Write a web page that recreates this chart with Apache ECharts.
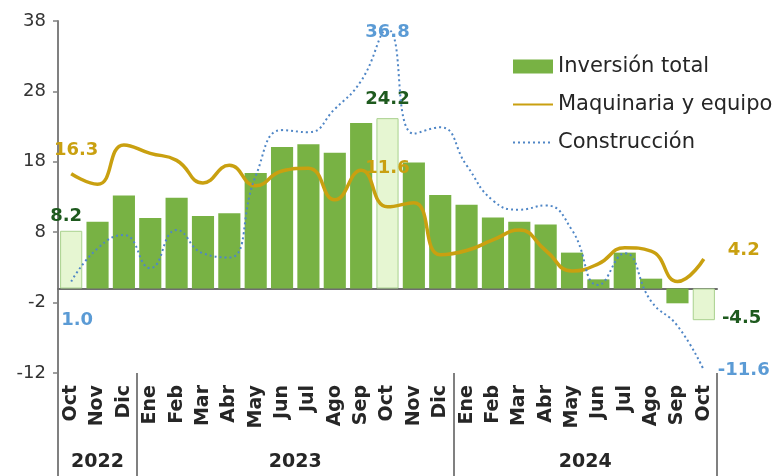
<!DOCTYPE html>
<html>
<head>
<meta charset="utf-8">
<script src="https://cdn.jsdelivr.net/npm/echarts@6/dist/echarts.min.js"></script>
<style>
  html, body { margin: 0; padding: 0; background: #fff; }
  #chart { width: 782px; height: 476px; }
</style>
</head>
<body>
<div id="chart"></div>
<script>
// months Oct 2022 .. Oct 2024
const months = ['Oct', 'Nov', 'Dic',
  'Ene', 'Feb', 'Mar', 'Abr', 'May', 'Jun', 'Jul', 'Ago', 'Sep', 'Oct', 'Nov', 'Dic',
  'Ene', 'Feb', 'Mar', 'Abr', 'May', 'Jun', 'Jul', 'Ago', 'Sep', 'Oct'];
const years = ['2022', '2023', '2024'];
const monthsPerYear = [3, 12, 10];

const inversionTotal = [8.2, 9.5, 13.2, 10.0, 12.9, 10.3, 10.7, 16.4, 20.1, 20.5, 19.3, 23.5, 24.2,
  17.9, 13.3, 11.9, 10.1, 9.5, 9.1, 5.1, 1.3, 5.1, 1.4, -2.1, -4.5];
const maquinaria = [16.3, 14.8, 20.4, 19.2, 18.2, 15.0, 17.5, 14.6, 16.7, 17.1, 12.6, 16.8, 11.6,
  12.2, 4.8, 5.4, 6.9, 8.3, 5.4, 2.5, 3.5, 5.8, 5.3, 1.0, 4.2];
const construccion = [1.0, 5.7, 7.6, 2.9, 8.3, 5.0, 4.4, 16.0, 22.5, 22.2, 25.5, 29.5, 36.8,
  22.0, 22.9, 17.5, 12.5, 11.2, 11.8, 8.3, 0.5, 5.0, -1.8, -5.3, -11.6];

const yMin = -12, yMax = 38, yStep = 10;
const labelled = [0, 12, 24];

const FONT = '"DejaVu Sans", sans-serif';
const GREEN = '#78b244';
const LIGHT = '#e6f6d2';
const LIGHT_BORDER = '#a9d18e';
const DARK_GREEN = '#1e5a1e';
const GOLD = '#c9a010';
const BLUE = '#5b9bd5';
const AXIS = '#808080';

// year boundaries (in category units)
const starts = [];
let acc = 0;
monthsPerYear.forEach(n => { starts.push(acc); acc += n; });
const yearCenters = monthsPerYear.map((n, i) => starts[i] + n / 2);

const barLabels = {
  0: { position: 'top', offset: [-5, 0] },
  12: { position: 'top', distance: 10 },
  24: { position: 'right', distance: 7, offset: [0, 14] }
};
const goldLabels = {
  0: { position: 'top', distance: 14, offset: [5, 0] },
  12: { position: 'top', distance: 30 },
  24: { position: 'right', distance: 24, offset: [0, -9] }
};
const blueLabels = {
  0: { position: 'bottom', distance: 30, offset: [6, 0] },
  12: { position: 'top', distance: -12 },
  24: { position: 'right', distance: 14 }
};

const valueLabel = (color) => ({
  show: true,
  color: color,
  fontFamily: FONT,
  fontWeight: 'bold',
  fontSize: 18,
  formatter: p => p.value.toFixed(1)
});

const chart = echarts.init(document.getElementById('chart'));

const option = {
  animation: false,
  textStyle: { fontFamily: FONT },
  grid: { left: 58, right: 65, top: 21, bottom: 103 },
  legend: {
    orient: 'vertical',
    left: 512,
    top: 56,
    padding: 0,
    itemWidth: 40,
    itemHeight: 14,
    itemGap: 17,
    textStyle: { fontSize: 21, color: '#262626', fontFamily: FONT },
    data: [
      { name: 'Inversión total', icon: 'rect' },
      { name: 'Maquinaria y equipo', itemStyle: { opacity: 0 } },
      { name: 'Construcción', itemStyle: { opacity: 0 } }
    ]
  },
  xAxis: [
    {
      // zero line
      type: 'category',
      data: months,
      axisLine: { onZero: true, lineStyle: { color: '#6e6e6e', width: 2 } },
      axisTick: { show: false },
      axisLabel: { show: false }
    },
    {
      // month labels + year separators
      type: 'category',
      data: months,
      position: 'bottom',
      axisLine: { show: false, onZero: false },
      axisTick: {
        show: true,
        length: 103,
        interval: (i) => starts.includes(i),
        lineStyle: { color: AXIS, width: 2 }
      },
      axisLabel: {
        interval: 0,
        rotate: 90,
        margin: 12,
        fontSize: 19,
        fontWeight: 'bold',
        color: '#262626',
        fontFamily: FONT
      }
    },
    {
      // year labels
      type: 'value',
      min: 0,
      max: months.length,
      interval: 0.5,
      position: 'bottom',
      axisLine: { show: false, onZero: false },
      axisTick: { show: false },
      splitLine: { show: false },
      axisLabel: {
        margin: 80,
        fontSize: 19,
        fontWeight: 'bold',
        color: '#262626',
        fontFamily: FONT,
        formatter: (v) => {
          const k = yearCenters.findIndex(c => Math.abs(c - v) < 1e-6);
          return k >= 0 ? years[k] : '';
        }
      }
    }
  ],
  yAxis: {
    type: 'value',
    min: yMin,
    max: yMax,
    interval: yStep,
    axisLine: { show: true, lineStyle: { color: AXIS, width: 2 } },
    axisTick: { show: true, length: 5, lineStyle: { color: AXIS, width: 1.5 } },
    splitLine: { show: false },
    axisLabel: { fontSize: 18, color: '#333', margin: 12, fontFamily: FONT }
  },
  series: [
    {
      name: 'Inversión total',
      type: 'bar',
      barCategoryGap: '16%',
      itemStyle: { color: GREEN },
      data: inversionTotal.map((v, i) => labelled.includes(i) ? {
        value: v,
        itemStyle: { color: LIGHT, borderColor: LIGHT_BORDER, borderWidth: 1 },
        label: Object.assign(valueLabel(DARK_GREEN), barLabels[i])
      } : v)
    },
    {
      name: 'Maquinaria y equipo',
      type: 'line',
      smooth: 0.5,
      symbol: 'circle',
      symbolSize: 0,
      showSymbol: true,
      showAllSymbol: true,
      itemStyle: { color: GOLD },
      lineStyle: { color: GOLD, width: 3.5 },
      data: maquinaria.map((v, i) => labelled.includes(i) ? {
        value: v,
        label: Object.assign(valueLabel(GOLD), goldLabels[i])
      } : v)
    },
    {
      name: 'Construcción',
      type: 'line',
      smooth: 0.5,
      symbol: 'circle',
      symbolSize: 0,
      showSymbol: true,
      showAllSymbol: true,
      itemStyle: { color: BLUE },
      lineStyle: { color: '#4f86c6', width: 2, type: [2, 3] },
      data: construccion.map((v, i) => labelled.includes(i) ? {
        value: v,
        label: Object.assign(valueLabel(BLUE), blueLabels[i])
      } : v)
    }
  ]
};

chart.setOption(option);
</script>
</body>
</html>
